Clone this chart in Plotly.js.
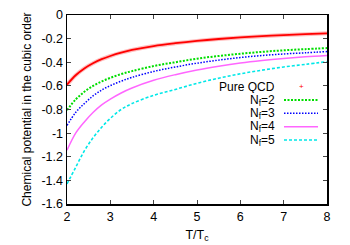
<!DOCTYPE html>
<html>
<head>
<meta charset="utf-8">
<script src="https://cdn.plot.ly/plotly-3.0.1.min.js"></script>
<style>html,body{margin:0;padding:0;background:#fff;}#chart{width:350px;height:245px;}</style>
</head>
<body>
<div id="chart"></div>
<script>
var T = [2, 2.2, 2.4, 2.6, 2.8, 3.0, 3.25, 3.5, 4.0, 4.5, 5.0, 5.5, 6.0, 6.5, 7.0, 7.5, 8.0];
var pureQCD = [-0.59, -0.51, -0.452, -0.408, -0.374, -0.347, -0.319, -0.296, -0.263, -0.239, -0.219, -0.203, -0.19, -0.179, -0.17, -0.162, -0.155];
var nf2 = [-0.805, -0.715, -0.65, -0.60, -0.562, -0.532, -0.50, -0.475, -0.432, -0.40, -0.37, -0.347, -0.328, -0.312, -0.299, -0.289, -0.28];
var nf3 = [-0.935, -0.825, -0.75, -0.685, -0.635, -0.598, -0.56, -0.528, -0.478, -0.44, -0.408, -0.382, -0.36, -0.343, -0.33, -0.32, -0.31];
var nf4 = [-1.145, -1.0, -0.905, -0.825, -0.76, -0.712, -0.66, -0.618, -0.553, -0.505, -0.465, -0.433, -0.406, -0.385, -0.368, -0.354, -0.343];
var nf5 = [-1.43, -1.29, -1.15, -1.04, -0.95, -0.875, -0.80, -0.75, -0.68, -0.63, -0.578, -0.535, -0.498, -0.467, -0.44, -0.418, -0.395];

var seriesNames = ["Pure QCD", "N<sub>f</sub>=2", "N<sub>f</sub>=3", "N<sub>f</sub>=4", "N<sub>f</sub>=5"];
var xTickVals = [2, 3, 4, 5, 6, 7, 8];
var yTickVals = [0, -0.2, -0.4, -0.6, -0.8, -1, -1.2, -1.4, -1.6];
var yTickText = ["0", "-0.2", "-0.4", "-0.6", "-0.8", "-1", "-1.2", "-1.4", "-1.6"];

var font = "Liberation Sans, Arial, sans-serif";
var colors = ["#ff0000", "#00dd00", "#0000ff", "#ff66ff", "#00e8e8"];
var dashes = ["solid", "2px,1.5px", "1.5px,1.5px", "solid", "3px,2px"];
var widths = [1.8, 2, 1.5, 1.5, 1.6];
var series = [pureQCD, nf2, nf3, nf4, nf5];

var traces = [];
// soft halo for pure QCD (cross markers in the original)
traces.push({x: T, y: pureQCD, mode: "lines", line: {color: "rgba(255,110,110,0.45)", width: 4, shape: "spline"}, showlegend: false, hoverinfo: "skip"});
for (var i = 0; i < series.length; i++) {
  traces.push({
    x: T, y: series[i], mode: "lines", name: seriesNames[i],
    line: {color: colors[i], width: widths[i], dash: dashes[i], shape: "spline"},
    showlegend: false
  });
}

// legend (custom, gnuplot style: text then sample)
var L = 67, R = 327, TOP = 15, BOT = 204;
function px(x) { return (x - L) / (R - L); }
function py(y) { return (BOT - y) / (BOT - TOP); }
var legY = [86.7, 100, 113.3, 126.7, 140];
var annotations = [];
var shapes = [];
for (var j = 0; j < seriesNames.length; j++) {
  annotations.push({
    xref: "paper", yref: "paper", x: px(277), y: py(legY[j]),
    xanchor: "right", yanchor: "middle", showarrow: false, height: 13,
    text: seriesNames[j], font: {family: font, size: 12, color: "#000"}
  });
  if (j === 0) {
    annotations.push({
      xref: "paper", yref: "paper", x: px(301), y: py(legY[j]),
      xanchor: "center", yanchor: "middle", showarrow: false, height: 9,
      text: "+", font: {family: font, size: 8, color: "#ff0000"}
    });
  } else {
    shapes.push({
      type: "line", xref: "paper", yref: "paper",
      x0: px(284), x1: px(318), y0: py(legY[j]), y1: py(legY[j]),
      line: {color: colors[j], width: widths[j], dash: dashes[j]}
    });
  }
}

var layout = {
  width: 350, height: 245,
  margin: {l: 67, r: 23, t: 15, b: 41},
  paper_bgcolor: "#fff", plot_bgcolor: "#fff",
  font: {family: font, size: 12, color: "#000"},
  showlegend: false,
  xaxis: {
    range: [2, 8], tickvals: xTickVals, ticks: "inside", ticklen: 4, tickwidth: 1,
    showline: true, linecolor: "#000", linewidth: 1.5, mirror: "ticks",
    showgrid: false, zeroline: false,
    tickfont: {family: font, size: 12.5},
    title: {text: "T/T<sub>c</sub>", font: {family: font, size: 12.5}, standoff: 7}
  },
  yaxis: {
    range: [-1.6, 0], tickvals: yTickVals, ticktext: yTickText, ticks: "inside", ticklen: 4, tickwidth: 1,
    showline: true, linecolor: "#000", linewidth: 1.5, mirror: "ticks",
    showgrid: false, zeroline: false,
    tickfont: {family: font, size: 12.5},
    title: {text: "Chemical potential in the cubic order", font: {family: font, size: 12}, standoff: 7}
  },
  annotations: annotations,
  shapes: shapes
};

Plotly.newPlot("chart", traces, layout, {displayModeBar: false, staticPlot: true});
</script>
</body>
</html>
